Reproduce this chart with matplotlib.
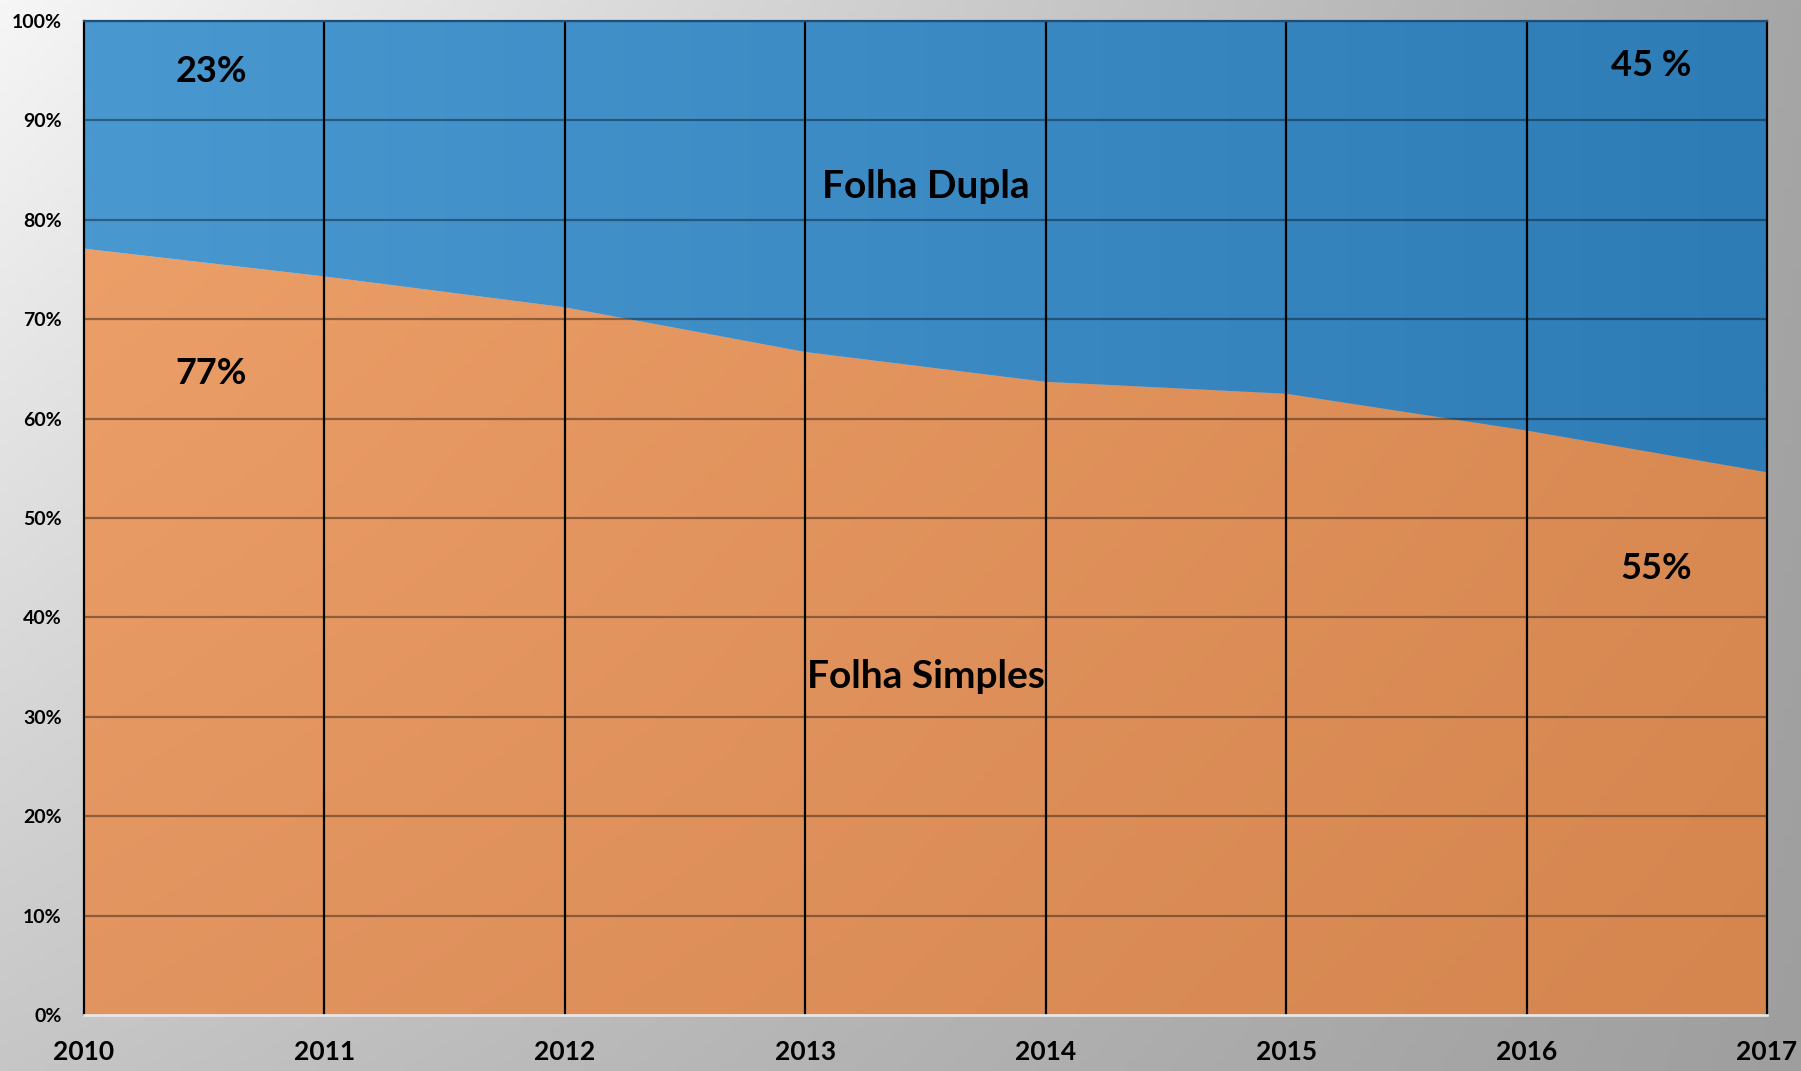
import matplotlib.pyplot as plt
import numpy as np
from matplotlib.colors import to_rgb

YEARS = [2010, 2011, 2012, 2013, 2014, 2015, 2016, 2017]
SIMPLES = [77.1, 74.3, 71.2, 66.7, 63.7, 62.5, 58.8, 54.6]
DUPLA = [100 - v for v in SIMPLES]
Y_TICKS = [0, 10, 20, 30, 40, 50, 60, 70, 80, 90, 100]

# (text, x, y, size)
ANNOTATIONS = [
    ("23%", 2010.53, 94.9, 26),
    ("77%", 2010.53, 64.5, 26),
    ("45 %", 2016.52, 95.5, 26),
    ("55%", 2016.54, 44.9, 26),
    ("Folha Dupla", 2013.5, 83.4, 28),
    ("Folha Simples", 2013.5, 34.1, 28),
]

FONT = ["Lato", "DejaVu Sans"]


def bilinear(tl, tr, bl, br, n=200):
    tl, tr, bl, br = [np.array(to_rgb(c)) for c in (tl, tr, bl, br)]
    u = np.linspace(0, 1, n)[None, :, None]
    v = np.linspace(0, 1, n)[:, None, None]
    top = tl * (1 - u) + tr * u
    bot = bl * (1 - u) + br * u
    return top * (1 - v) + bot * v


fig = plt.figure(figsize=(18.01, 10.71), dpi=100)

bg = fig.add_axes([0, 0, 1, 1], zorder=-10)
bg.imshow(bilinear("#f6f6f6", "#a6a6a6", "#c6c6c6", "#9e9e9e"),
          aspect="auto", extent=[0, 1, 0, 1], origin="upper")
bg.axis("off")

ax = fig.add_axes([84 / 1801, 1 - 1015 / 1071, (1767 - 84) / 1801, (1015 - 21) / 1071])
ax.set_facecolor("none")
ax.set_xlim(YEARS[0], YEARS[-1])
ax.set_ylim(0, 100)

extent = [YEARS[0], YEARS[-1], 0, 100]
low = ax.fill_between(YEARS, 0, SIMPLES, color="none", lw=0)
up = ax.fill_between(YEARS, SIMPLES, 100, color="none", lw=0)
im1 = ax.imshow(bilinear("#f0a26b", "#dc8d56", "#e29460", "#d5864f"),
                extent=extent, aspect="auto", origin="upper", zorder=1)
im1.set_clip_path(low.get_paths()[0], transform=ax.transData)
im2 = ax.imshow(bilinear("#4a98d0", "#2e7cb6", "#4a98d0", "#2e7cb6"),
                extent=extent, aspect="auto", origin="upper", zorder=1)
im2.set_clip_path(up.get_paths()[0], transform=ax.transData)

for t in Y_TICKS[1:]:
    ax.axhline(t, color="black", alpha=0.38, lw=1.6, zorder=2)
for yr in YEARS[1:-1]:
    ax.axvline(yr, color="black", lw=1.6, zorder=3)

for s in ["left", "right"]:
    ax.spines[s].set_color("black")
    ax.spines[s].set_linewidth(1.6)
ax.spines["top"].set_color("#1d4f7a")
ax.spines["top"].set_linewidth(1.6)
ax.spines["bottom"].set_color("#e6e6e6")
ax.spines["bottom"].set_linewidth(2)
for s in ax.spines.values():
    s.set_zorder(4)

ax.set_yticks(Y_TICKS)
ax.set_yticklabels([f"{t}%" for t in Y_TICKS], fontsize=14, fontweight="bold",
                   family=FONT)
ax.set_xticks(YEARS)
ax.set_xticklabels([str(y) for y in YEARS], fontsize=19, fontweight="bold",
                   family=FONT)
ax.tick_params(axis="y", length=0, pad=16)
ax.tick_params(axis="x", length=0, pad=18)

for txt, x, y, size in ANNOTATIONS:
    ax.text(x, y, txt, ha="center", va="center", fontsize=size, fontweight="bold",
            family=FONT, zorder=5)

fig.savefig("out.png", dpi=100)
